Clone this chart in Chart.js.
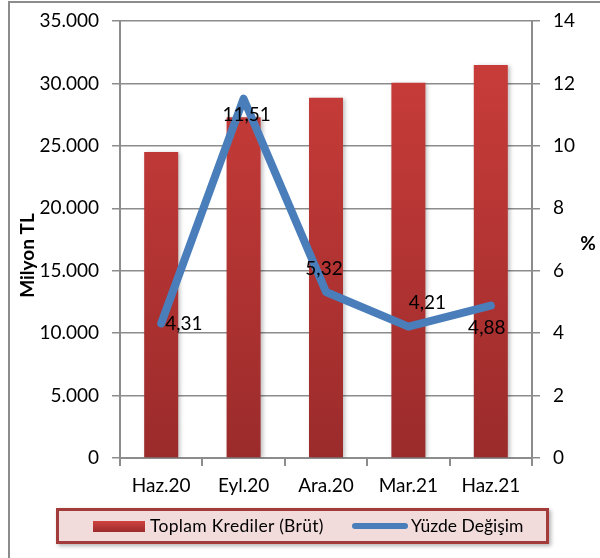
<!DOCTYPE html>
<html lang="tr">
<head>
<meta charset="utf-8">
<title>Toplam Krediler</title>
<script src="https://cdn.jsdelivr.net/npm/chart.js@4.4.1/dist/chart.umd.min.js"></script>
<style>
  html, body { margin: 0; padding: 0; background: #fff; }
  #wrap { position: relative; width: 600px; height: 558px; overflow: hidden; font-family: Lato, sans-serif; }
  #frame { position: absolute; left: 8px; top: 1px; width: 620px; height: 600px; border-left: 2px solid #8c8c8c; border-top: 2px solid #8c8c8c; }
  #legend { position: absolute; left: 56px; top: 508px; width: 487px; height: 30px; border: 3px solid #a33b3b; background: #f2dcdb; box-shadow: 2px 2px 4px rgba(0,0,0,0.3); }
  .item { position: absolute; top: 0; height: 30px; line-height: 30px; font-size: 17.5px; color: #000; white-space: nowrap; }
  .sw { position: absolute; }
  #chart { position: absolute; left: 0; top: 0; }
</style>
</head>
<body>
<div id="wrap">
  <div id="frame"></div>
  <canvas id="chart" width="600" height="558"></canvas>
  <div id="legend">
    <div class="sw" style="left:34px;top:10px;width:52px;height:11px;background:linear-gradient(#cf4240,#9c2b2b);"></div>
    <div class="item" style="left:91px;letter-spacing:0.3px;">Toplam Krediler (Brüt)</div>
    <div class="sw" style="left:293px;top:12px;width:56px;height:6px;border-radius:3px;background:#4a7ebb;"></div>
    <div class="item" style="left:352px;">Yüzde Değişim</div>
  </div>
</div>
<script>
const labels = ['Haz.20', 'Eyl.20', 'Ara.20', 'Mar.21', 'Haz.21'];
const krediler = [24500, 27300, 28850, 30050, 31480];
const yuzde = [4.31, 11.51, 5.32, 4.21, 4.88];
const leftTitle = 'Milyon TL';
const rightTitle = '%';

// label offsets from each point (dx, dy, align)
const labelPos = [
  [4, 0, 'left'],
  [3, 16, 'center'],
  [-2, -23, 'center'],
  [19, -24, 'center'],
  [-4, 22, 'center'],
];

const AXIS = '#8c8c8c';
const tickFont = { family: 'Lato', size: 19 };

function fmt(v) {
  return v === 0 ? '0' : String(v).replace(/\B(?=(\d{3})+(?!\d))/g, '.');
}

function barGradient(ctx) {
  const { chart } = ctx;
  const area = chart.chartArea;
  if (!area) return '#b83434';
  const g = chart.ctx.createLinearGradient(0, area.top, 0, area.bottom);
  g.addColorStop(0, '#cd3e3b');
  g.addColorStop(1, '#9b2b2b');
  return g;
}

const shadowPlugin = {
  id: 'barShadow',
  beforeDatasetDraw(chart, args) {
    if (args.index !== 0) return;
    const c = chart.ctx;
    c.save();
    c.shadowColor = 'rgba(0,0,0,0.25)';
    c.shadowBlur = 4;
    c.shadowOffsetX = 2;
    c.shadowOffsetY = 1;
  },
  afterDatasetDraw(chart, args) {
    if (args.index !== 0) return;
    chart.ctx.restore();
  },
};

const valuePlugin = {
  id: 'values',
  afterDatasetsDraw(chart) {
    const c = chart.ctx;
    const meta = chart.getDatasetMeta(1);
    c.save();
    c.font = '19px Lato';
    c.fillStyle = '#000';
    c.textBaseline = 'middle';
    meta.data.forEach((pt, i) => {
      const [dx, dy, align] = labelPos[i];
      c.textAlign = align;
      c.fillText(yuzde[i].toFixed(2).replace('.', ','), pt.x + dx, pt.y + dy);
    });
    c.restore();
  },
};

const titlePlugin = {
  id: 'axisTitles',
  afterDraw(chart) {
    const c = chart.ctx;
    const y = chart.scales.y;
    const y1 = chart.scales.y1;
    c.save();
    c.font = 'bold 19px Lato';
    c.fillStyle = '#000';
    c.textAlign = 'center';
    c.textBaseline = 'middle';
    c.translate(y.left + 28, (y.top + y.bottom) / 2 + 16);
    c.rotate(-Math.PI / 2);
    c.fillText(leftTitle, 0, 0);
    c.restore();
    c.save();
    c.font = 'bold 19px Lato';
    c.fillStyle = '#000';
    c.textAlign = 'center';
    c.textBaseline = 'middle';
    c.fillText(rightTitle, y1.right - 12, (y1.top + y1.bottom) / 2 + 4);
    c.restore();
  },
};

function fitY(width) {
  return (s) => {
    s.width = width;
    s.paddingTop = 0;
    s.paddingBottom = 0;
  };
}

new Chart(document.getElementById('chart'), {
  type: 'bar',
  data: {
    labels,
    datasets: [
      {
        type: 'bar',
        label: 'Toplam Krediler (Brüt)',
        data: krediler,
        yAxisID: 'y',
        backgroundColor: barGradient,
        categoryPercentage: 1,
        barPercentage: 0.413,
        order: 1,
      },
      {
        type: 'line',
        label: 'Yüzde Değişim',
        data: yuzde,
        yAxisID: 'y1',
        borderColor: '#4a7ebb',
        borderWidth: 8,
        borderCapStyle: 'round',
        borderJoinStyle: 'round',
        pointRadius: 0,
        tension: 0,
        order: 0,
      },
    ],
  },
  options: {
    responsive: false,
    animation: false,
    layout: { padding: { top: 21, left: 0, right: 0, bottom: 0 } },
    plugins: { legend: { display: false }, tooltip: { enabled: false } },
    scales: {
      x: {
        afterFit: (s) => { s.height = 100; },
        grid: { offset: true, drawOnChartArea: false, tickLength: 8, color: AXIS, lineWidth: 2 },
        border: { color: AXIS, width: 2 },
        ticks: { font: tickFont, color: '#000', padding: 8 },
      },
      y: {
        position: 'left',
        min: 0,
        max: 35000,
        afterFit: fitY(120),
        grid: { color: AXIS, lineWidth: 1.5, tickLength: 8 },
        border: { color: AXIS, width: 2 },
        ticks: { stepSize: 5000, font: tickFont, color: '#000', padding: 13, callback: fmt },
      },
      y1: {
        position: 'right',
        min: 0,
        max: 14,
        afterFit: fitY(68),
        grid: { drawOnChartArea: false, color: AXIS, lineWidth: 1.5, tickLength: 8 },
        border: { color: AXIS, width: 2 },
        ticks: { stepSize: 2, font: tickFont, color: '#000', padding: 13 },
      },
    },
  },
  plugins: [shadowPlugin, valuePlugin, titlePlugin],
});
</script>
</body>
</html>
